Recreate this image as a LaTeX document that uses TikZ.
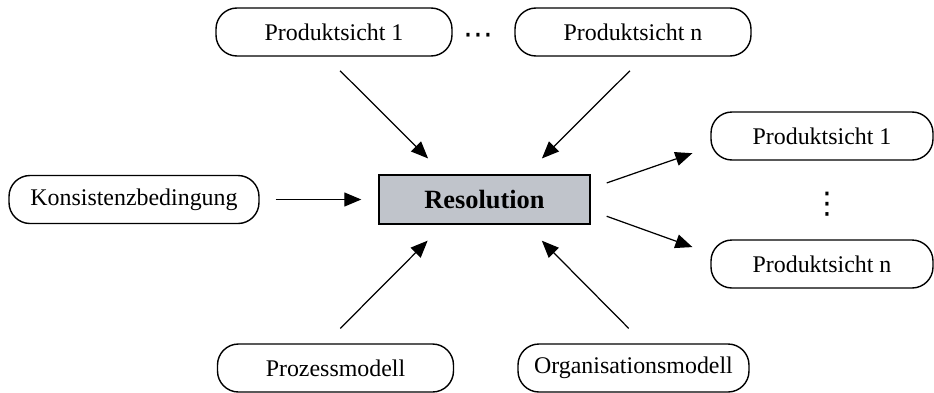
\documentclass[tikz,border=0pt]{standalone}
\usepackage{fontspec}
\setmainfont{Liberation Serif}
\newfontfamily\symfont{DejaVu Sans}
\usetikzlibrary{arrows.meta}

\definecolor{resgray}{RGB}{192,196,203}

\begin{document}
\begin{tikzpicture}[
  view/.style={draw, line width=0.8pt, rounded corners=0.42cm, fill=white,
               font=\fontsize{13.6}{16}\selectfont, inner sep=2pt,
               minimum width=4.72cm, minimum height=0.96cm},
  core/.style={draw, line width=0.8pt, fill=resgray, inner sep=2pt,
               font=\fontsize{15}{18}\selectfont\bfseries,
               minimum width=4.22cm, minimum height=0.98cm},
  dots/.style={font=\fontsize{17}{20}\selectfont\symfont, inner sep=0pt},
  arr/.style={-{Triangle[length=3.4mm, width=2.8mm]}, line width=0.7pt}]

\useasboundingbox (-9.69,-3.85) rectangle (8.99,3.99);

% ---------- centre ----------
\node[core]                         (res) at (0, 0) {Resolution};

% ---------- inputs ----------
\node[view]                         (t-1) at (-3.01, 3.35) {Produktsicht 1};
\node[dots]                         (t-d) at (-0.12, 3.22) {⋯};
\node[view]                         (t-n) at (2.97, 3.35) {Produktsicht n};
\node[view, minimum width=5cm]      (kons) at (-7.01, 0) {Konsistenzbedingung};
\node[view]                         (proz) at (-2.98, -3.37) {Prozessmodell};
\node[view, minimum width=4.62cm]   (org) at (2.98, -3.37) {Organisationsmodell};

% ---------- outputs ----------
\node[view, minimum width=4.44cm]   (r-1) at (6.75, 1.27) {Produktsicht 1};
\node[dots]                         (r-d) at (6.85, -0.09) {⋮};
\node[view, minimum width=4.44cm]   (r-n) at (6.75, -1.29) {Produktsicht n};

% arrows into the resolution
\draw[arr, shorten <=0.4cm, shorten >=0.45cm]
  ([xshift=-0.16cm]t-1.south) -- ([xshift=-0.81cm]res.north);
\draw[arr, shorten <=0.4cm, shorten >=0.45cm]
  ([xshift=0.22cm]t-n.south) -- ([xshift=0.83cm]res.north);
\draw[arr, shorten <=0.32cm, shorten >=0.34cm] (kons.east) -- (res.west);
\draw[arr, shorten <=0.42cm, shorten >=0.45cm]
  ([xshift=-0.2cm]proz.north) -- ([xshift=-0.82cm]res.south);
\draw[arr, shorten <=0.42cm, shorten >=0.45cm]
  ([xshift=0.2cm]org.north) -- ([xshift=0.83cm]res.south);

% arrows out of the resolution
\draw[arr, shorten <=0.34cm, shorten >=0.38cm]
  ([yshift=0.22cm]res.east) -- ([yshift=-0.22cm]r-1.west);
\draw[arr, shorten <=0.34cm, shorten >=0.38cm]
  ([yshift=-0.22cm]res.east) -- ([yshift=0.21cm]r-n.west);
\end{tikzpicture}
\end{document}
